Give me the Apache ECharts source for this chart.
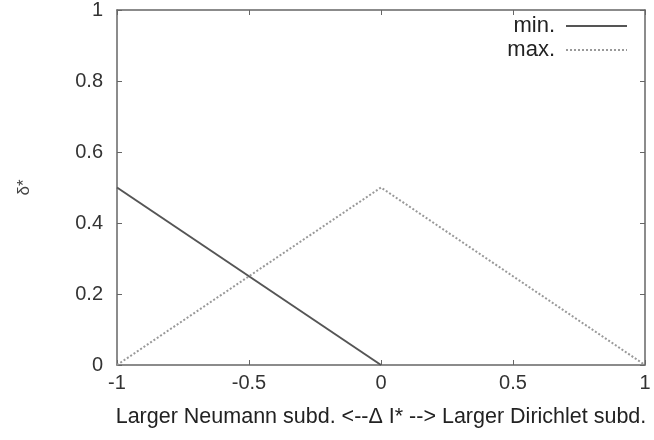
<!DOCTYPE html>
<html><head><meta charset="utf-8">
<script src="https://cdn.jsdelivr.net/npm/echarts@6/dist/echarts.min.js"></script>
<style>html,body{margin:0;padding:0;background:#fff}#c{width:654px;height:440px}</style>
</head><body><div id="c"></div>
<script>
const xTicks = [-1, -0.5, 0, 0.5, 1];
const yTicks = [0, 0.2, 0.4, 0.6, 0.8, 1];
const minX = [-1, 0];
const minY = [0.5, 0];
const maxX = [-1, 0, 1];
const maxY = [0, 0.5, 0];
const seriesNames = ['min.', 'max.'];
const xTitle = 'Larger Neumann subd. <--\u0394 I* --> Larger Dirichlet subd.';
const yTitle = '\u03b4*';

const font = 'Liberation Sans, Arial, sans-serif';
const axisCol = '#666';
const chart = echarts.init(document.getElementById('c'));
const lbl = {color: '#333', fontFamily: font, fontSize: 20};
const baseX = {type: 'value', min: -1, max: 1, interval: 0.5,
  axisLine: {show: true, onZero: false, lineStyle: {color: axisCol, width: 1.5}},
  axisTick: {show: true, inside: true, length: 5, lineStyle: {color: axisCol}},
  splitLine: {show: false}};
const baseY = {type: 'value', min: 0, max: 1, interval: 0.2,
  axisLine: {show: true, onZero: false, lineStyle: {color: axisCol, width: 1.5}},
  axisTick: {show: true, inside: true, length: 5, lineStyle: {color: axisCol}},
  splitLine: {show: false}};
chart.setOption({
  animation: false,
  grid: {left: 117, right: 9, top: 10, bottom: 75},
  xAxis: [
    Object.assign({}, baseX, {position: 'bottom', name: xTitle, nameLocation: 'middle', nameGap: 41,
      nameTextStyle: {color: '#222', fontFamily: font, fontSize: 21.5},
      axisLabel: Object.assign({margin: 8, formatter: v => xTicks.includes(v) ? String(v) : ''}, lbl)}),
    Object.assign({}, baseX, {position: 'top', axisLabel: {show: false}})
  ],
  yAxis: [
    Object.assign({}, baseY, {position: 'left', name: yTitle, nameLocation: 'middle', nameGap: 84, nameRotate: 90,
      nameTextStyle: {color: '#444', fontFamily: font, fontSize: 17},
      axisLabel: Object.assign({margin: 14, formatter: v => yTicks.includes(v) ? String(v) : ''}, lbl)}),
    Object.assign({}, baseY, {position: 'right', axisLabel: {show: false}})
  ],
  legend: {
    orient: 'vertical', right: 21, top: 10, align: 'right', itemGap: 2,
    itemWidth: 61, itemHeight: 18,
    itemStyle: {opacity: 0},
    textStyle: {color: '#222', fontFamily: font, fontSize: 22, padding: [0, 6, 0, 0]},
    data: seriesNames
  },
  series: [
    {name: seriesNames[0], type: 'line', xAxisIndex: 0, yAxisIndex: 0, symbol: 'none',
      data: minX.map((x, i) => [x, minY[i]]),
      lineStyle: {color: '#555', width: 2, type: 'solid'}, itemStyle: {color: '#555'}},
    {name: seriesNames[1], type: 'line', xAxisIndex: 0, yAxisIndex: 0, symbol: 'none',
      data: maxX.map((x, i) => [x, maxY[i]]),
      lineStyle: {color: '#999', width: 2, type: [2, 2]}, itemStyle: {color: '#999'}}
  ]
});
</script></body></html>
